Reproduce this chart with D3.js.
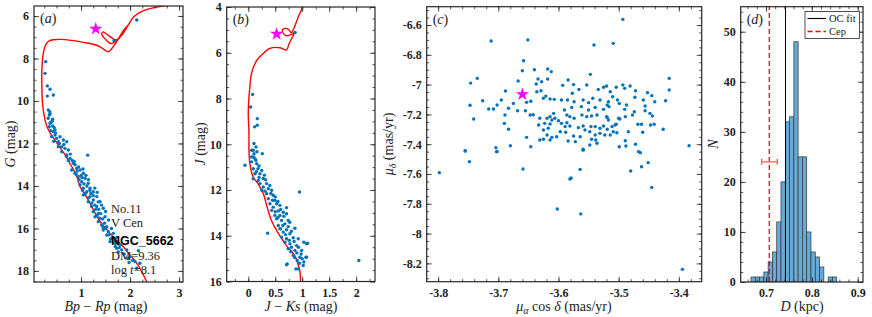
<!DOCTYPE html>
<html><head><meta charset="utf-8">
<script src="https://cdn.jsdelivr.net/npm/d3@7"></script>
<style>body{margin:0;background:#fff} svg{display:block}</style>
</head><body><svg id="chart" width="872" height="317"></svg>
<script>
// ---------- DATA ----------
// (a) Gaia CMD: [Bp-Rp, G]
const cmdA = [[2.136,6.19],[1.673,7.16],[0.279,8.15],[0.264,8.70],[0.311,9.29],[0.367,9.45],[0.311,9.77],[0.434,9.72],[0.332,10.42],[0.36,10.5],[0.352,10.66],[0.37,10.6],[0.33,10.81],[0.42,10.86],[0.367,11.05],[0.35,11.21],[0.42,11.18],[0.38,11.40],[0.434,11.44],[0.40,11.68],[0.469,11.60],[0.50,11.76],[0.536,11.92],[0.57,11.68],[0.638,11.84],[0.605,12.15],[0.707,11.92],[0.67,12.23],[0.74,12.31],[0.469,11.36],[0.536,12.15],[0.39,11.0],[0.45,11.25],[0.41,10.95],[0.44,11.9],[0.48,11.5],[0.56,12.0],[0.65,12.05],
[1.136,12.55],[0.605,12.39],[0.707,12.54],[0.775,12.70],[0.842,12.93],[0.911,13.17],[0.809,13.25],[0.979,13.25],[0.877,13.40],[1.046,13.40],[0.944,13.56],[1.081,13.64],[1.013,13.80],[1.148,13.87],[0.979,13.95],[1.046,14.11],[1.183,14.11],[1.115,14.27],[1.25,14.27],[1.046,14.42],[1.183,14.50],[1.32,14.50],[1.148,14.74],[1.25,14.66],[1.387,14.74],[1.217,14.97],[1.32,14.97],[1.454,15.05],[1.25,15.21],[1.352,15.29],[1.285,15.45],[1.387,15.52],[1.489,15.45],[1.352,15.68],[1.42,15.84],[1.524,15.92],[1.454,16.07],[1.556,16.15],[1.658,16.23],[1.524,16.31],[1.626,16.46],[1.728,16.42],[1.591,16.62],[1.693,16.70],[1.795,16.78],[1.728,16.93],[1.83,17.01],[1.932,17.01],[2.0,17.33],[2.10,17.56],[2.20,17.64],[2.136,17.87],[2.17,17.05],
[0.70,12.6],[0.74,12.8],[0.82,12.8],[0.88,13.0],[0.86,12.85],[0.95,13.1],[0.92,13.3],[1.0,13.5],[0.96,13.7],[1.02,13.6],[1.10,13.5],[1.06,13.9],[1.12,14.0],[1.03,14.2],[1.09,14.35],[1.2,14.35],[1.15,14.55],[1.22,14.8],[1.28,14.9],[1.3,15.1],[1.36,15.1],[1.4,15.3],[1.33,15.4],[1.44,15.55],[1.48,15.75],[1.45,15.95],[1.5,16.0],[1.57,16.3],[1.6,16.5],[1.66,16.6],[1.7,16.85],[1.78,16.9],[1.76,17.1],[1.88,17.2],[1.95,17.4],[2.05,17.5],[1.98,17.6],[1.04,13.2],[1.15,13.7],[1.28,14.1],[1.33,14.3],[1.42,14.9],[1.5,15.2],[1.56,15.6],[1.62,16.0],[1.18,14.2],[0.9,13.45],[0.78,12.5],[1.25,14.45],[1.35,14.75]];
// (a) isochrone [Bp-Rp, G]
const isoA = [[2.36,18.6],[2.14,17.64],[1.98,17.2],[1.86,16.86],[1.72,16.55],[1.59,16.23],[1.49,15.95],[1.39,15.68],[1.28,15.25],[1.18,14.8],[1.08,14.4],[0.98,14.03],[0.92,13.6],[0.85,13.25],[0.77,12.93],[0.68,12.55],[0.57,12.2],[0.47,11.85],[0.37,11.52],[0.29,11.1],[0.24,10.6],[0.21,10.0],[0.2,9.17],[0.2,8.6],[0.21,8.15],[0.23,7.76],[0.27,7.4],[0.33,7.2],[0.43,7.12],[0.6,7.1],[0.8,7.15],[1.05,7.24],[1.25,7.33],[1.39,7.45],[1.48,7.6],[1.56,7.68],[1.62,7.55],[1.70,7.3],[1.78,7.0],[1.86,6.7],[1.95,6.45],[1.85,6.85],[1.72,7.15],[1.62,7.3],[1.5,7.1],[1.42,6.85],[1.45,6.75],[1.55,6.9],[1.68,7.1],[1.75,7.1],[1.85,6.8],[1.97,6.4],[2.07,6.05],[2.27,5.75],[2.5,5.6],[2.7,5.52],[2.9,5.48]];
// (b) 2MASS CMD: [J-Ks, J]
const cmdB = [[0.87,5.11],[0.081,7.82],[0.044,8.37],[0.167,8.88],[0.118,9.24],[0.167,9.17],[0.106,9.97],[0.143,10.12],[0.093,10.26],[0.16,10.33],[0.26,10.41],[0.063,10.56],[0.10,10.56],[0.063,10.26],[0.106,10.41],[-0.061,10.92],[0.124,10.63],[0.063,10.77],[0.156,10.85],[0.093,11.07],[0.18,11.07],[0.124,11.29],[0.217,11.29],[0.093,11.51],[0.186,11.58],[0.278,11.50],[0.217,11.72],[0.34,11.72],[0.278,11.87],[0.371,11.94],[0.25,12.01],[0.433,12.01],[0.95,12.09],[0.34,12.16],[0.463,12.23],[0.371,12.38],[0.494,12.45],[0.402,12.60],[0.526,12.60],[0.587,12.67],[0.463,12.75],[0.71,12.77],[0.433,12.89],[0.557,12.92],[0.648,12.97],[0.494,13.11],[0.587,13.11],[0.71,13.04],[0.526,13.26],[0.618,13.33],[0.741,13.33],[0.557,13.55],[0.68,13.48],[0.77,13.41],[0.359,13.89],[0.587,13.69],[0.71,13.74],[0.865,13.67],[0.648,13.84],[0.772,13.91],[0.618,14.06],[0.71,14.13],[0.834,14.09],[0.927,14.13],[0.68,14.28],[0.772,14.35],[0.896,14.43],[1.031,14.28],[1.081,14.35],[0.741,14.57],[0.865,14.64],[0.989,14.64],[0.834,14.86],[0.957,14.94],[1.069,14.94],[0.908,15.08],[1.03,15.15],[0.723,15.23],[0.927,15.45],[1.019,15.30],[2.05,15.08],[1.1,14.33],[1.08,14.94],[0.883,15.45],[0.71,15.27],
[0.14,10.7],[0.2,10.95],[0.15,11.2],[0.25,11.15],[0.3,11.35],[0.2,11.45],[0.32,11.55],[0.4,11.8],[0.31,12.05],[0.42,12.15],[0.5,12.3],[0.45,12.45],[0.55,12.5],[0.6,12.85],[0.5,12.95],[0.66,13.15],[0.55,13.2],[0.64,13.55],[0.74,13.6],[0.6,13.7],[0.8,13.8],[0.69,13.95],[0.76,14.2],[0.85,14.25],[0.8,14.5],[0.93,14.5],[0.9,14.75],[0.98,14.8],[1.0,15.0],[0.95,15.2],[0.86,14.95],[0.79,14.7]];
// (b) isochrone [J-Ks, J]
const isoB = [[0.97,16.2],[0.96,15.6],[0.93,15.3],[0.86,14.86],[0.71,14.43],[0.56,13.91],[0.43,13.33],[0.35,12.75],[0.28,12.16],[0.18,11.72],[0.09,11.43],[0.03,10.85],[0.013,10.26],[0.013,9.53],[0.0,8.66],[0.013,7.93],[0.03,7.49],[0.06,6.9],[0.16,6.32],[0.28,6.03],[0.40,5.81],[0.59,5.78],[0.71,5.88],[0.75,5.65],[0.80,5.4],[0.86,5.1],[0.80,5.2],[0.70,5.25],[0.63,5.05],[0.66,4.95],[0.74,4.97],[0.80,5.12],[0.86,4.85],[0.93,4.42],[0.98,4.15],[1.01,3.9]];
// (c) proper motions [pmRA cos dec, pmDec]
const pm = [[-3.712,-6.707],[-3.651,-6.70],[-3.541,-6.734],[-3.509,-6.723],[-3.658,-6.84],[-3.66,-6.907],[-3.64,-6.90],[-3.618,-6.895],[-3.612,-6.913],[-3.746,-6.99],[-3.735,-6.958],[-3.667,-6.976],[-3.634,-6.962],[-3.618,-6.962],[-3.628,-6.98],[-3.637,-6.996],[-3.688,-7.043],[-3.747,-7.139],[-3.726,-7.108],[-3.741,-7.231],[-3.716,-7.164],[-3.708,-7.164],[-3.702,-7.137],[-3.695,-7.103],[-3.689,-7.204],[-3.69,-7.26],[-3.683,-7.30],[-3.683,-7.159],[-3.675,-7.126],[-3.668,-7.175],[-3.68,-7.41],[-3.704,-7.423],[-3.703,-7.45],[-3.755,-7.444],[-3.653,-7.354],[-3.646,-7.417],[-3.655,-7.175],[-3.653,-7.119],[-3.646,-7.112],[-3.642,-7.202],[-3.647,-7.204],[-3.636,-7.048],[-3.629,-7.041],[-3.625,-7.092],[-3.621,-7.077],[-3.614,-7.097],[-3.607,-7.099],[-3.595,-7.103],[-3.585,-7.103],[-3.574,-7.115],[-3.577,-7.058],[-3.566,-7.032],[-3.553,-7.003],[-3.547,-6.931],[-3.575,-7.00],[-3.584,-6.969],[-3.593,-7.005],[-3.559,-7.103],[-3.55,-7.121],[-3.543,-7.092],[-3.534,-7.032],[-3.525,-7.018],[-3.52,-7.009],[-3.514,-7.048],[-3.531,-7.103],[-3.517,-7.115],[-3.502,-7.103],[-3.50,-7.226],[-3.525,-7.166],[-3.539,-7.153],[-3.55,-7.17],[-3.562,-7.148],[-3.578,-7.153],[-3.59,-7.17],[-3.586,-7.204],[-3.581,-7.215],[-3.574,-7.226],[-3.561,-7.204],[-3.553,-7.215],[-3.545,-7.211],[-3.536,-7.204],[-3.52,-7.215],[-3.517,-7.238],[-3.608,-7.193],[-3.614,-7.215],[-3.611,-7.238],[-3.619,-7.226],[-3.614,-7.264],[-3.623,-7.26],[-3.617,-7.293],[-3.625,-7.305],[-3.619,-7.338],[-3.625,-7.367],[-3.611,-7.354],[-3.614,-7.372],[-3.631,-7.372],[-3.633,-7.271],[-3.631,-7.226],[-3.606,-7.226],[-3.60,-7.242],[-3.595,-7.26],[-3.586,-7.256],[-3.581,-7.278],[-3.589,-7.282],[-3.597,-7.316],[-3.588,-7.32],[-3.603,-7.35],[-3.575,-7.345],[-3.564,-7.35],[-3.567,-7.289],[-3.559,-7.278],[-3.556,-7.305],[-3.548,-7.316],[-3.546,-7.282],[-3.539,-7.282],[-3.531,-7.293],[-3.525,-7.278],[-3.519,-7.30],[-3.511,-7.282],[-3.506,-7.271],[-3.509,-7.316],[-3.514,-7.338],[-3.523,-7.338],[-3.531,-7.327],[-3.539,-7.338],[-3.545,-7.367],[-3.538,-7.372],[-3.536,-7.394],[-3.548,-7.405],[-3.559,-7.434],[-3.572,-7.383],[-3.584,-7.379],[-3.499,-7.417],
[-3.493,-6.562],[-3.416,-6.958],[-3.416,-7.036],[-3.504,-7.018],[-3.493,-7.003],[-3.49,-7.025],[-3.481,-7.009],[-3.472,-7.041],[-3.473,-7.085],[-3.459,-7.103],[-3.452,-7.054],[-3.445,-7.074],[-3.44,-7.115],[-3.422,-7.108],[-3.51,-7.081],[-3.519,-7.137],[-3.516,-7.148],[-3.499,-7.126],[-3.49,-7.166],[-3.487,-7.137],[-3.474,-7.182],[-3.456,-7.175],[-3.456,-7.144],[-3.448,-7.193],[-3.444,-7.211],[-3.477,-7.204],[-3.489,-7.215],[-3.498,-7.231],[-3.519,-7.22],[-3.504,-7.266],[-3.503,-7.323],[-3.484,-7.316],[-3.468,-7.266],[-3.462,-7.266],[-3.447,-7.271],[-3.441,-7.266],[-3.426,-7.30],[-3.46,-7.32],[-3.489,-7.377],[-3.488,-7.412],[-3.472,-7.40],[-3.467,-7.45],[-3.464,-7.457],[-3.383,-7.41],
[-3.48,-7.58],[-3.462,-7.551],[-3.451,-7.524],[-3.445,-7.69],[-3.394,-8.24],
[-3.798,-7.591],[-3.755,-7.446],[-3.748,-7.517],[-3.702,-7.45],[-3.659,-7.566],[-3.602,-7.835],[-3.581,-7.634],[-3.579,-7.627],[-3.564,-7.569],[-3.563,-7.868],[-3.559,-7.44]];
// Cepheid (V Cen) positions
const cepA = [1.30, 6.61];
const cepB = [0.526, 5.18];
const cepC = [-3.66, -7.065];
// (d) distance histogram
const binEdges = [0.6673,0.6766,0.6860,0.6953,0.7047,0.7140,0.7234,0.7327,0.7421,0.7514,0.7608,0.7701,0.7794,0.7888,0.7981,0.8075,0.8168,0.8262,0.8355,0.8449,0.8542];
const binCounts = [1,1,1,2,4,6,12,20,32,33,48,25,25,10,6,5,3,0,1,1];
const ocFit = 0.7426;
const cepD = 0.7072, cepDlo = 0.6906, cepDhi = 0.7246, cepBarN = 24;
// tick labels
const aXTicks = [1,2,3], aYTicks = [6,8,10,12,14,16,18];
const bXTicks = [0,0.5,1,1.5,2], bYTicks = [4,6,8,10,12,14,16];
const cXTicks = [-3.8,-3.7,-3.6,-3.5,-3.4], cYTicks = [-6.6,-6.8,-7,-7.2,-7.4,-7.6,-7.8,-8,-8.2];
const dXTicks = [0.7,0.8,0.9], dYTicks = [0,10,20,30,40,50];
const infoText = ["No.11","V Cen","NGC_5662","DM=9.36","log t=8.1"];

// ---------- DRAW ----------
const svg = d3.select("#chart");
const SERIF = "'Liberation Serif','Times New Roman',serif";
const BOX = "#262626";
const DOT = "#0072BD";

function rng(a,b,s){ const n=Math.round((b-a)/s); return d3.range(n+1).map(i=>+(a+i*s).toFixed(6)); }

function panel(o){
  const g = svg.append("g");
  const x = d3.scaleLinear().domain(o.xd).range([o.l,o.r]);
  const y = d3.scaleLinear().domain(o.yd).range([o.b,o.t]);
  g.append("rect").attr("x",o.l).attr("y",o.t).attr("width",o.r-o.l).attr("height",o.b-o.t).attr("fill","#fff");
  const cid = "clip"+o.id;
  svg.append("clipPath").attr("id",cid).append("rect").attr("x",o.l).attr("y",o.t).attr("width",o.r-o.l).attr("height",o.b-o.t);
  const plot = g.append("g").attr("clip-path",`url(#${cid})`);
  const axes = svg.append("g").attr("class","axes"+o.id);
  const inDom = (s)=>v=>{const d=s.domain(); return v>=Math.min(...d)-1e-9 && v<=Math.max(...d)+1e-9;};
  const xMin = o.xMinor.filter(inDom(x)), yMin = o.yMinor.filter(inDom(y));
  function ax(gen, tr, vals, size, fmt){
    const a = axes.append("g").attr("transform",tr)
      .call(gen.tickValues(vals).tickSize(size).tickPadding(5).tickFormat(fmt));
    a.select(".domain").remove();
    a.selectAll("line").attr("stroke",BOX).attr("stroke-width",0.8);
    a.selectAll("text").attr("font-family",SERIF).attr("font-weight","bold").attr("font-size",12).attr("fill","#222");
    return a;
  }
  const fx = o.xFmt || (d=>String(d)), fy = o.yFmt || (d=>String(d));
  const bot = ax(d3.axisBottom(x), `translate(0,${o.b})`, o.xt, -5, fx);
  bot.selectAll("text").attr("y",6.5);
  ax(d3.axisBottom(x), `translate(0,${o.b})`, xMin, -2.5, "");
  ax(d3.axisTop(x), `translate(0,${o.t})`, o.xt, -5, "");
  ax(d3.axisTop(x), `translate(0,${o.t})`, xMin, -2.5, "");
  ax(d3.axisLeft(y), `translate(${o.l},0)`, o.yt, -5, fy);
  ax(d3.axisLeft(y), `translate(${o.l},0)`, yMin, -2.5, "");
  ax(d3.axisRight(y), `translate(${o.r},0)`, o.yt, -5, "");
  ax(d3.axisRight(y), `translate(${o.r},0)`, yMin, -2.5, "");
  axes.append("rect").attr("x",o.l).attr("y",o.t).attr("width",o.r-o.l).attr("height",o.b-o.t)
    .attr("fill","none").attr("stroke",BOX).attr("stroke-width",1.2);
  // panel letter
  const lt = axes.append("text").attr("x",o.l+6).attr("y",o.t+17).attr("font-family",SERIF).attr("font-size",14).attr("fill","#222");
  lt.append("tspan").text("(");
  lt.append("tspan").attr("font-style","italic").text(o.letter);
  lt.append("tspan").text(")");
  return {g,x,y,plot,axes};
}

function dots(p, data){
  p.plot.selectAll(null).data(data).join("circle")
    .attr("cx",d=>p.x(d[0])).attr("cy",d=>p.y(d[1])).attr("r",1.7).attr("fill",DOT);
}
function iso(p, data){
  p.plot.append("path").datum(data)
    .attr("d", d3.line().x(d=>p.x(d[0])).y(d=>p.y(d[1])).curve(d3.curveCatmullRom.alpha(0.5)))
    .attr("fill","none").attr("stroke","#ff0000").attr("stroke-width",1.4);
}
function star(p, pt){
  p.plot.append("path").attr("d", d3.symbol(d3.symbolStar, 55)())
    .attr("transform",`translate(${p.x(pt[0])},${p.y(pt[1])})`).attr("fill","#ff00ff");
}
function xlabel(cx, parts){
  const t = svg.append("text").attr("x",cx).attr("y",311).attr("text-anchor","middle")
    .attr("font-family",SERIF).attr("font-size",14).attr("fill","#222");
  parts.forEach(pp=>{ const s=t.append("tspan").text(pp[0]); if(pp[1]) s.attr("font-style","italic"); if(pp[2]) s.attr("font-size",10).attr("dy",pp[2]); if(pp[3]) s.attr("dy",pp[3]); });
  return t;
}
function ylabel(bx, cy, parts){
  const t = svg.append("text").attr("transform",`translate(${bx},${cy}) rotate(-90)`).attr("text-anchor","middle")
    .attr("font-family",SERIF).attr("font-size",14).attr("fill","#222");
  parts.forEach(pp=>{ const s=t.append("tspan").text(pp[0]); if(pp[1]) s.attr("font-style","italic"); if(pp[2]) s.attr("font-size",10).attr("dy",pp[2]); if(pp[3]) s.attr("dy",pp[3]); });
  return t;
}

// Panel (a)
const pA = panel({id:"a",letter:"a",l:34,r:183,t:6,b:282,xd:[0.04,3.08],yd:[18.52,5.53],
  xt:aXTicks,yt:aYTicks,xMinor:rng(0,3.25,0.25),yMinor:rng(5.5,18.5,0.5)});
iso(pA, isoA); dots(pA, cmdA); star(pA, cepA);
const info = svg.append("g").attr("font-family",SERIF).attr("font-size",12.5).attr("fill","#222");
info.append("text").attr("x",111).attr("y",212.5).text(infoText[0]);
info.append("text").attr("x",111).attr("y",226.5).text(infoText[1]);
info.append("text").attr("x",111).attr("y",244.5).attr("font-family","'Liberation Sans',Arial,sans-serif").attr("font-weight","bold").attr("font-size",12.5).attr("fill","#000").text(infoText[2]);
info.append("text").attr("x",111).attr("y",259.5).text(infoText[3]);
const lg = info.append("text").attr("x",111).attr("y",273.5);
lg.append("tspan").text("log ");
lg.append("tspan").attr("font-style","italic").text("t");
lg.append("tspan").text(infoText[4].replace("log t",""));
xlabel(106, [["Bp",1],[" − "],["Rp",1],[" (mag)"]]);
ylabel(15, 144, [["G",1],[" (mag)"]]);

// Panel (b)
const pB = panel({id:"b",letter:"b",l:226.7,r:375,t:7,b:281.5,xd:[-0.4,2.35],yd:[16,4],
  xt:bXTicks,yt:bYTicks,xMinor:rng(-0.25,2.25,0.25),yMinor:rng(4,16,0.5)});
iso(pB, isoB); dots(pB, cmdB); star(pB, cepB);
xlabel(301, [["J",1],[" − "],["Ks",1],[" (mag)"]]);
ylabel(205, 144, [["J",1],[" (mag)"]]);

// Panel (c)
const pC = panel({id:"c",letter:"c",l:426.7,r:701.7,t:6.7,b:281.7,xd:[-3.819,-3.362],yd:[-8.323,-6.477],
  xt:cXTicks,yt:cYTicks,xMinor:rng(-3.82,-3.36,0.02),yMinor:rng(-8.3,-6.5,0.05)});
dots(pC, pm); star(pC, cepC);
xlabel(564, [["μ",1],["α",1,"3"],[" cos ",0,0,"-3"],["δ",1],[" (mas/yr)"]]);
ylabel(393, 144, [["μ",1],["δ",1,"3"],[" (mas/yr)",0,0,"-3"]]);

// Panel (d)
const pD = panel({id:"d",letter:"d",l:740.7,r:863,t:6.7,b:282,xd:[0.6448,0.9116],yd:[0,55],
  xt:dXTicks,yt:dYTicks,xMinor:rng(0.64,0.92,0.02),yMinor:rng(0,54,2)});
const bins = binCounts.map((c,i)=>({x0:binEdges[i],x1:binEdges[i+1],n:c})).filter(d=>d.n>0);
pD.plot.selectAll(null).data(bins).join("rect")
  .attr("x",d=>pD.x(d.x0)).attr("width",d=>pD.x(d.x1)-pD.x(d.x0))
  .attr("y",d=>pD.y(d.n)).attr("height",d=>pD.y(0)-pD.y(d.n))
  .attr("fill","rgb(102,170,215)").attr("stroke","#333").attr("stroke-width",0.7);
pD.plot.append("line").attr("x1",pD.x(ocFit)).attr("x2",pD.x(ocFit)).attr("y1",pD.y(0)).attr("y2",pD.y(55))
  .attr("stroke","#000").attr("stroke-width",1);
pD.plot.append("line").attr("x1",pD.x(cepD)).attr("x2",pD.x(cepD)).attr("y1",pD.y(0)).attr("y2",pD.y(55))
  .attr("stroke","#ff0000").attr("stroke-width",1.3).attr("stroke-dasharray","5,3");
const eb = pD.plot.append("g").attr("stroke","#ff5a5a").attr("stroke-width",1.3);
eb.append("line").attr("x1",pD.x(cepDlo)).attr("x2",pD.x(cepDhi)).attr("y1",pD.y(cepBarN)).attr("y2",pD.y(cepBarN));
[cepDlo,cepDhi].forEach(v=>eb.append("line").attr("x1",pD.x(v)).attr("x2",pD.x(v)).attr("y1",pD.y(cepBarN)-3).attr("y2",pD.y(cepBarN)+3));
// legend
const leg = svg.append("g");
leg.append("rect").attr("x",805).attr("y",11.5).attr("width",54.5).attr("height",27).attr("fill","#fff").attr("stroke",BOX).attr("stroke-width",0.8);
leg.append("line").attr("x1",807.5).attr("x2",826).attr("y1",18.5).attr("y2",18.5).attr("stroke","#000").attr("stroke-width",1.1);
leg.append("line").attr("x1",807.5).attr("x2",826).attr("y1",31.5).attr("y2",31.5).attr("stroke","#ff0000").attr("stroke-width",1.3).attr("stroke-dasharray","5,3");
leg.append("text").attr("x",829).attr("y",22).attr("font-family",SERIF).attr("font-size",10.5).attr("fill","#222").text("OC fit");
leg.append("text").attr("x",829).attr("y",35).attr("font-family",SERIF).attr("font-size",10.5).attr("fill","#222").text("Cep");
xlabel(802, [["D",1],[" (kpc)"]]);
ylabel(718, 144, [["N",1]]);
</script></body></html>
